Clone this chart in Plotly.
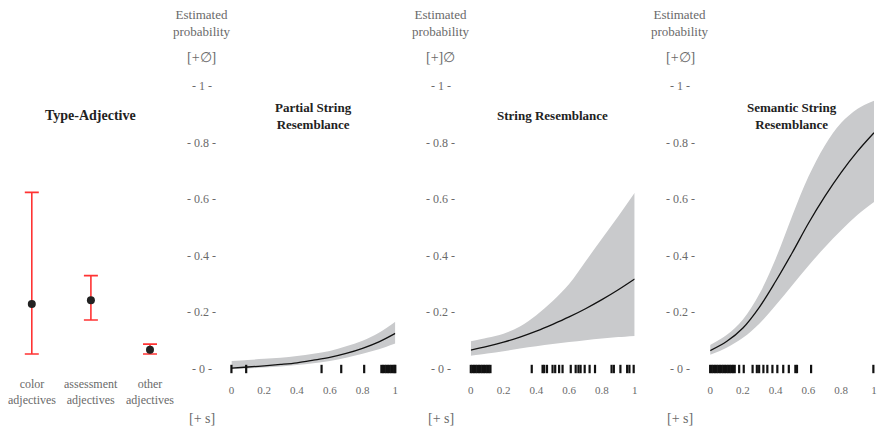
import plotly.graph_objects as go

# ---------------- data ----------------
xs = [0, 0.1, 0.2, 0.3, 0.4, 0.5, 0.6, 0.7, 0.8, 0.9, 1.0]

partial_fit = [0.003, 0.007, 0.011, 0.016, 0.022, 0.031, 0.041, 0.055, 0.073, 0.096, 0.126]
partial_hi = [0.028, 0.032, 0.036, 0.040, 0.046, 0.054, 0.064, 0.080, 0.100, 0.128, 0.167]
partial_lo = [0.0, 0.002, 0.005, 0.009, 0.014, 0.020, 0.028, 0.040, 0.054, 0.070, 0.090]
partial_rug = [0.0, 0.09, 0.55, 0.67, 0.81, 0.915, 0.925, 0.935, 0.945, 0.955, 0.965, 0.975, 0.985, 0.995, 1.0]

string_fit = [0.067, 0.080, 0.095, 0.113, 0.134, 0.158, 0.184, 0.213, 0.245, 0.280, 0.318]
string_hi = [0.098, 0.110, 0.125, 0.150, 0.190, 0.240, 0.300, 0.380, 0.460, 0.540, 0.623]
string_lo = [0.047, 0.055, 0.063, 0.072, 0.080, 0.088, 0.095, 0.102, 0.108, 0.113, 0.117]
string_rug = [0.0, 0.01, 0.02, 0.03, 0.04, 0.05, 0.06, 0.07, 0.08, 0.09, 0.10, 0.11, 0.12,
              0.372, 0.438, 0.448, 0.465, 0.499, 0.515, 0.539, 0.56, 0.61, 0.64, 0.657,
              0.67, 0.695, 0.725, 0.758, 0.859, 0.873, 0.913, 0.954, 0.968, 0.994]

semantic_fit = [0.065, 0.097, 0.145, 0.218, 0.310, 0.410, 0.515, 0.610, 0.695, 0.770, 0.835]
semantic_hi = [0.085, 0.120, 0.175, 0.265, 0.390, 0.540, 0.680, 0.790, 0.870, 0.920, 0.948]
semantic_lo = [0.050, 0.075, 0.110, 0.160, 0.225, 0.295, 0.365, 0.430, 0.490, 0.545, 0.590]
semantic_rug = [0.0, 0.01, 0.02, 0.03, 0.04, 0.05, 0.06, 0.07, 0.08, 0.09, 0.10, 0.11, 0.12,
                0.13, 0.14, 0.15, 0.177, 0.205, 0.259, 0.285, 0.299, 0.325, 0.349, 0.38,
                0.41, 0.446, 0.48, 0.52, 0.53, 0.616, 0.996]

adj_categories = ["color<br>adjectives", "assessment<br>adjectives", "other<br>adjectives"]
adj_est = [0.230, 0.243, 0.068]
adj_hi = [0.624, 0.330, 0.088]
adj_lo = [0.053, 0.173, 0.053]

x_ticks = [0, 0.2, 0.4, 0.6, 0.8, 1]
x_ticktext = ["0", "0.2", "0.4", "0.6", "0.8", "1"]
y_ticks = [0, 0.2, 0.4, 0.6, 0.8, 1]
y_ticktext = ["- 0 -", "- 0.2 -", "- 0.4 -", "- 0.6 -", "- 0.8 -", "- 1 -"]

panel_titles = ["Partial String<br>Resemblance", "String Resemblance", "Semantic String<br>Resemblance"]
panel_marks = ["[+∅]", "[+]∅", "[+∅]"]

# ---------------- layout helpers ----------------
W, H = 880, 428
FONT = "Liberation Serif"
GRAY = "#6a6a6a"
DARK = "#222222"
BAND = "#c9cacc"
RED = "#ff3333"

def px(x):
    return x / W

def py(y):
    return 1 - y / H

YLO, YHI = -0.045, 1.05
Y0_PX, Y1_PX = 369.0, 86.0
scale = Y0_PX - Y1_PX
ydom = [py(Y0_PX - YLO * scale), py(Y0_PX - YHI * scale)]

fig = go.Figure()

# left panel: Type-Adjective
cat_idx = [0, 1, 2]
fig.add_trace(go.Scatter(
    x=cat_idx, y=adj_est, mode="markers",
    marker=dict(color=DARK, size=8),
    error_y=dict(type="data", symmetric=False,
                 array=[h - e for h, e in zip(adj_hi, adj_est)],
                 arrayminus=[e - l for l, e in zip(adj_lo, adj_est)],
                 color=RED, thickness=1.6, width=7),
    xaxis="x", yaxis="y", showlegend=False, cliponaxis=False))

panels = [
    (partial_fit, partial_hi, partial_lo, partial_rug, 230, 395),
    (string_fit, string_hi, string_lo, string_rug, 471, 636),
    (semantic_fit, semantic_hi, semantic_lo, semantic_rug, 712, 877),
]

layout_axes = {}
cat_px = [29, 88, 148]
unit = (cat_px[2] - cat_px[0]) / 2.0
layout_axes["xaxis"] = dict(domain=[0, px(175)], range=[-cat_px[0] / unit, (175 - cat_px[0]) / unit],
                            showticklabels=False, showgrid=False,
                            zeroline=False, showline=False, ticks="", anchor="y")
layout_axes["yaxis"] = dict(domain=ydom, range=[YLO, YHI], visible=False, anchor="x")

annotations = []
for c, lab in zip(cat_idx, adj_categories):
    annotations.append(dict(x=c, xref="x", y=py(392), yref="paper", text=lab, showarrow=False,
                            xanchor="center", yanchor="middle",
                            font=dict(family=FONT, size=12, color=GRAY)))

for i, (fit, hi, lo, rug, xl, xr) in enumerate(panels):
    n = i + 2
    xa, ya = f"x{n}", f"y{n}"
    fig.add_trace(go.Scatter(x=xs, y=lo, mode="lines", line=dict(width=0, shape="spline"),
                             xaxis=xa, yaxis=ya, showlegend=False, hoverinfo="skip"))
    fig.add_trace(go.Scatter(x=xs, y=hi, mode="lines", line=dict(width=0, shape="spline"),
                             fill="tonexty", fillcolor=BAND,
                             xaxis=xa, yaxis=ya, showlegend=False, hoverinfo="skip"))
    fig.add_trace(go.Scatter(x=xs, y=fit, mode="lines", line=dict(width=1.3, color="#111111", shape="spline"),
                             xaxis=xa, yaxis=ya, showlegend=False))
    fig.add_trace(go.Scatter(x=rug, y=[0] * len(rug), mode="markers",
                             marker=dict(symbol="line-ns", size=6, line=dict(width=2.2, color="#111111")),
                             xaxis=xa, yaxis=ya, showlegend=False, cliponaxis=False))
    layout_axes[f"xaxis{n}"] = dict(domain=[px(xl), px(xr)], range=[0, 1], tickvals=x_ticks,
                                    ticktext=x_ticktext, showgrid=False, zeroline=False,
                                    showline=False, ticks="", anchor=ya,
                                    tickfont=dict(family=FONT, size=11, color=GRAY))
    layout_axes[f"yaxis{n}"] = dict(domain=ydom, range=[YLO, YHI], visible=False, anchor=xa)

    cx = xl - 30
    for v, t in zip(y_ticks, y_ticktext):
        annotations.append(dict(x=px(cx), xref="paper", y=v, yref=ya, text=t, showarrow=False,
                                xanchor="center", yanchor="middle",
                                font=dict(family=FONT, size=12, color=GRAY)))
    annotations.append(dict(x=px(cx), y=py(23), xref="paper", yref="paper",
                            text="Estimated<br>probability", showarrow=False,
                            xanchor="center", yanchor="middle",
                            font=dict(family=FONT, size=13, color=GRAY)))
    annotations.append(dict(x=px(cx), y=py(58), xref="paper", yref="paper",
                            text=panel_marks[i], showarrow=False,
                            xanchor="center", yanchor="middle",
                            font=dict(family=FONT, size=14, color=GRAY)))
    annotations.append(dict(x=px(cx), y=py(418), xref="paper", yref="paper",
                            text="[+ s]", showarrow=False,
                            xanchor="center", yanchor="middle",
                            font=dict(family=FONT, size=14, color=GRAY)))
    annotations.append(dict(x=px((xl + xr) / 2), y=py(116), xref="paper", yref="paper",
                            text="<b>" + panel_titles[i] + "</b>", showarrow=False,
                            xanchor="center", yanchor="middle",
                            font=dict(family=FONT, size=13, color=DARK)))

annotations.append(dict(x=px(88), y=py(116), xref="paper", yref="paper",
                        text="<b>Type-Adjective</b>", showarrow=False,
                        xanchor="center", yanchor="middle",
                        font=dict(family=FONT, size=14, color=DARK)))

fig.update_layout(width=W, height=H, margin=dict(l=0, r=0, t=0, b=0),
                  paper_bgcolor="white", plot_bgcolor="white", hovermode=False,
                  annotations=annotations, **layout_axes)

fig.write_html("out.html", config={"displayModeBar": False},
               post_script="document.body.style.margin='0px';document.body.style.overflow='hidden';")
